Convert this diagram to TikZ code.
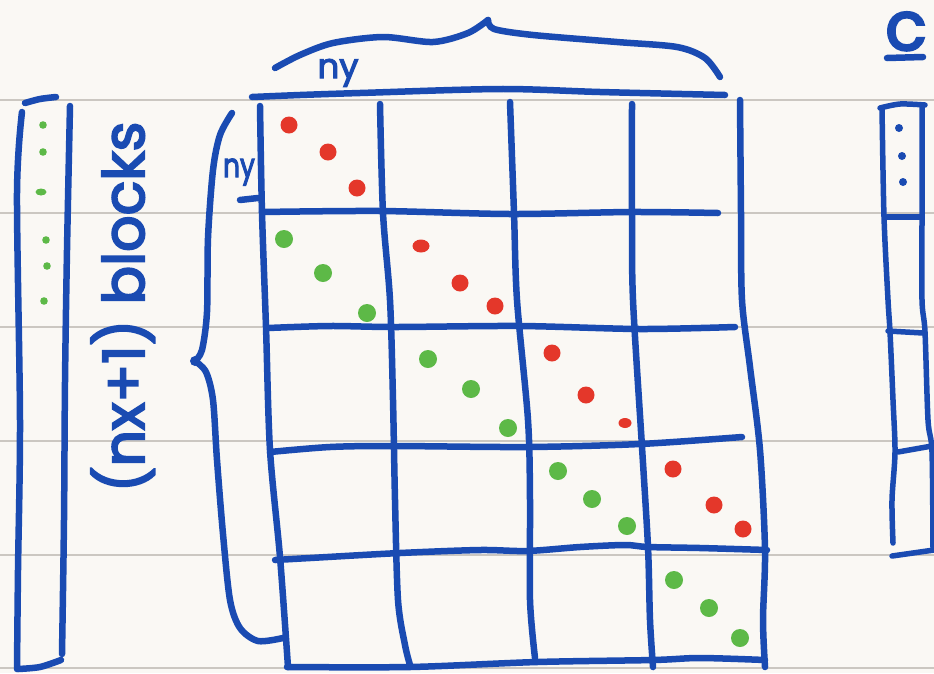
\documentclass[tikz,border=0pt]{standalone}
\usepackage{fontspec}
\newfontfamily\hand{Poppins}[FakeBold=3.5]
\definecolor{ink}{HTML}{1A4BB2}
\definecolor{redink}{HTML}{E4372A}
\definecolor{greenink}{HTML}{5DB947}
\definecolor{paper}{HTML}{FAF8F4}
\definecolor{rulegray}{HTML}{CBC7C1}
\begin{document}
\begin{tikzpicture}[x=1pt,y=-1pt,
  pen/.style={draw=ink,line width=6.5pt,line cap=round,line join=round},
  thinpen/.style={draw=ink,line width=5.5pt,line cap=round,line join=round},
  ruleline/.style={draw=rulegray,line width=1.5pt},
  handtext/.style={text=ink,inner sep=0pt}]
\fill[paper] (0,0) rectangle (934,673);
\path[use as bounding box] (0,0) rectangle (934,673);
\foreach \yy in {100,213,327,441,555,668} \draw[ruleline] (0,\yy) -- (934,\yy);

% ---------- left vector ----------
\draw[pen] plot[smooth,tension=0.5] coordinates {(22,112) (17,193) (20,420) (18,570) (17,669)};
\draw[pen] plot[smooth,tension=0.5] coordinates {(25,103) (40,99) (56,97)};
\draw[pen] plot[smooth,tension=0.5] coordinates {(70,106) (67,250) (65,382) (64,520) (62,654)};
\draw[pen] plot[smooth,tension=0.5] coordinates {(18,669) (40,667) (61,660)};
\foreach \p in {(43,125),(43,152),(46,240),(47,266),(44,301)} \fill[greenink] \p circle[radius=3.8pt];
\fill[greenink] (41,192) ellipse[x radius=5.5pt,y radius=3.5pt];

% ---------- rotated label ----------
\node[handtext,font=\hand\fontsize{57}{57}\selectfont,rotate=90,anchor=base] (blk) at (144,307) {(nx+1) blocks};

% ---------- braces ----------
\draw[pen] plot[smooth,tension=0.5] coordinates {(275,68) (300,55) (333,43) (383,37) (433,42) (468,33) (488,20)};
\draw[pen] plot[smooth,tension=0.5] coordinates {(488,20) (494,29) (533,35) (617,42) (677,47) (705,58) (720,77)};
\node[handtext,font=\hand\fontsize{34}{34}\selectfont,anchor=base] (nytop) at (338,78) {ny};

\draw[pen] plot[smooth,tension=0.5] coordinates {(232,113) (220,135) (213,170) (208,238) (207,312) (202,350) (195,361)};
\draw[pen] plot[smooth,tension=0.5] coordinates {(195,361) (206,372) (213,400) (217,460) (223,534) (230,600) (240,628) (258,641) (283,638)};
\fill[ink] (195,361) circle[radius=5pt];
\draw[pen] (240,200) -- (258,198);
\node[handtext,font=\hand\fontsize{33}{33}\selectfont,anchor=base,xscale=0.8] (nyleft) at (239,177) {ny};

% ---------- main grid ----------
\draw[pen] plot[smooth,tension=0.5] coordinates {(252,97) (300,95) (360,93) (500,89) (600,92) (725,95)};
\draw[pen] plot[smooth,tension=0.5] coordinates {(260,106) (262,213) (266,327) (270,450) (280,557) (288,667)};
\draw[pen] plot[smooth,tension=0.5] coordinates {(380,104) (383,213) (390,300) (393,400) (395,500) (398,600) (405,645) (410,665)};
\draw[pen] plot[smooth,tension=0.5] coordinates {(510,102) (514,213) (517,300) (528,420) (530,500) (530,600) (535,658)};
\draw[pen] plot[smooth,tension=0.5] coordinates {(632,104) (632,213) (633,300) (642,447) (648,547) (650,620) (653,667)};
\draw[pen] plot[smooth,tension=0.5] coordinates {(740,100) (741,213) (742,300) (750,367) (760,450) (765,550) (763,620) (765,667)};

\draw[pen] plot[smooth,tension=0.5] coordinates {(262,212) (380,211) (510,214) (632,212) (718,213)};
\draw[pen] plot[smooth,tension=0.5] coordinates {(268,328) (330,326) (395,327) (520,326) (640,329) (735,327)};
\draw[pen] plot[smooth,tension=0.5] coordinates {(270,452) (330,447) (393,446) (527,447) (640,444) (742,437)};
\draw[pen] plot[smooth,tension=0.5] coordinates {(275,560) (310,558) (400,553) (480,550) (527,551) (580,547) (625,545) (648,547) (700,548) (767,550)};
\draw[pen] plot[smooth,tension=0.5] coordinates {(287,667) (410,667) (537,662) (653,660) (700,658) (765,660)};

% ---------- dots ----------
\foreach \p in {(289,125),(328,152),(357,188),(460,283),(495,306),(552,353),(586,395),(673,469),(714,505),(743,529)}
  \fill[redink] \p circle[radius=8.5pt];
\fill[redink] (421,246) ellipse[x radius=8.5pt,y radius=6.5pt];
\fill[redink] (625,423) ellipse[x radius=6.5pt,y radius=5pt];
\foreach \p in {(284,239),(323,273),(367,313),(428,359),(471,389),(508,428),(558,471),(592,499),(627,526),(674,580),(709,608),(740,638)}
  \fill[greenink] \p circle[radius=9pt];

% ---------- right vector ----------
\node[handtext,font=\hand\fontsize{68}{68}\selectfont,anchor=base] (cvec) at (906,50) {c};
\draw[pen] (887,58) -- (923,57);
\draw[thinpen] plot[smooth,tension=0.5] coordinates {(882,108) (884,217) (888,300) (890,332) (893,400) (895,452) (892,500) (893,543)};
\draw[thinpen] plot[smooth,tension=0.5] coordinates {(922,105) (922,217) (922,300) (925,332) (928,420) (932,452) (933,550)};
\draw[thinpen] plot[smooth,tension=0.5] coordinates {(880,108) (900,104) (925,105)};
\draw[thinpen] (887,217) -- (922,217);
\draw[thinpen] (888,331) -- (923,333);
\draw[thinpen] (898,452) -- (932,446);
\draw[thinpen] (892,556) -- (934,550);
\foreach \p in {(899,128),(902,156),(903,182)} \fill[ink] \p circle[radius=4pt];
\end{tikzpicture}
\end{document}
